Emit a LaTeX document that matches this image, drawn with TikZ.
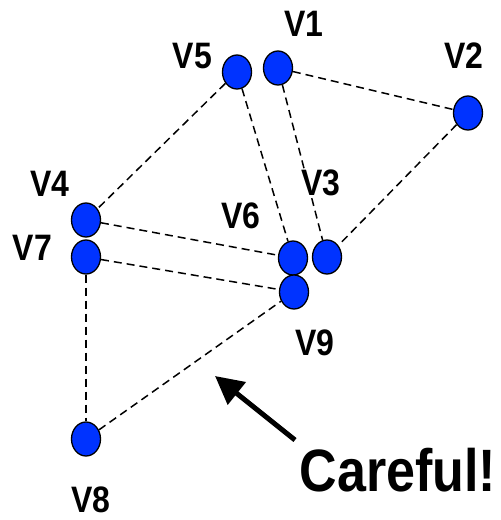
\documentclass[tikz,border=0pt]{standalone}
\usepackage{fontspec}
\setmainfont{Liberation Sans}
\usetikzlibrary{shapes.geometric,arrows.meta}
\definecolor{vblue}{RGB}{0,51,255}
\tikzset{
  vert/.style={ellipse, draw=black, line width=1.3pt, fill=vblue, minimum width=29pt, minimum height=34pt, inner sep=0pt},
  edge/.style={line width=1.5pt, dash pattern=on 8pt off 5pt},
  lbl/.style={anchor=base, inner sep=0pt, font=\fontsize{32}{36}\selectfont\bfseries},
  big/.style={anchor=base, inner sep=0pt, font=\fontsize{52}{58}\selectfont\bfseries}
}
\begin{document}
\begin{tikzpicture}[x=1pt,y=-1pt]
\useasboundingbox (0,0) rectangle (501,520);
\node[vert] (V1) at (278,68) {};
\node[vert] (V5) at (237,72) {};
\node[vert] (V2) at (468,113) {};
\node[vert] (V6) at (293,258) {};
\node[vert] (V3) at (327,257) {};
\node[vert] (V9) at (294,292) {};
\node[vert] (V4) at (86,220) {};
\node[vert] (V7) at (86,257) {};
\node[vert] (V8) at (86,439) {};
\draw[edge] (V1) -- (V2);
\draw[edge] (V2) -- (V3);
\draw[edge] (V1) -- (V3);
\draw[edge] (V5) -- (V6);
\draw[edge] (V5) -- (V4);
\draw[edge] (V4) -- (V6);
\draw[edge] (V7) -- (V9);
\draw[edge] (V7) -- (V8);
\draw[edge] (V8) -- (V9);
\node[lbl] (L1) at (304,36.7) {\scalebox{1}[1.15]{V1}};
\node[lbl] (L5) at (192.5,68.3) {\scalebox{1}[1.15]{V5}};
\node[lbl] (L2) at (464,68.3) {\scalebox{1}[1.15]{V2}};
\node[lbl] (L3) at (321,195) {\scalebox{1}[1.15]{V3}};
\node[lbl] (L6) at (241,228.3) {\scalebox{1}[1.15]{V6}};
\node[lbl] (L4) at (50,196.7) {\scalebox{1}[1.15]{V4}};
\node[lbl] (L7) at (32.5,260) {\scalebox{1}[1.15]{V7}};
\node[lbl] (L9) at (315,355) {\scalebox{1}[1.15]{V9}};
\node[lbl] (L8) at (91,512) {\scalebox{1}[1.15]{V8}};
\node[big] (C) at (398,491.7) {\scalebox{1}[1.15]{Careful!}};
\coordinate (tail) at (295,440);
\coordinate (tip) at (215,376);
\draw[line width=5pt, -{Triangle[length=28pt,width=28pt]}] (tail) -- (tip);
\end{tikzpicture}
\end{document}
